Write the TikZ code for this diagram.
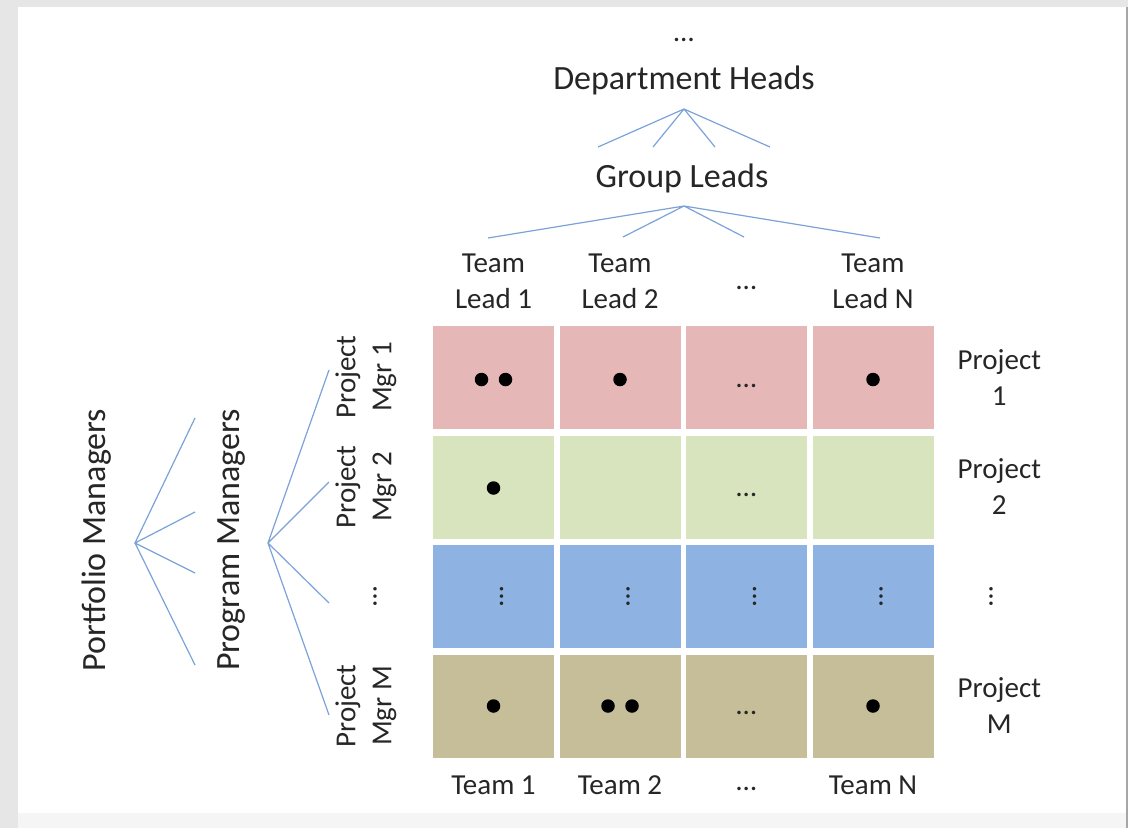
\documentclass[tikz,border=0pt]{standalone}
\usepackage{fontspec}
\setmainfont{Carlito}
\usepackage{tikz}
\usetikzlibrary{positioning}
\usepackage{xcolor}

\definecolor{txtgray}{HTML}{262626}
\definecolor{fanblue}{HTML}{7BA3DA}
\definecolor{pinkrow}{HTML}{E6B7B7}
\definecolor{greenrow}{HTML}{D8E4BD}
\definecolor{bluerow}{HTML}{8EB3E2}
\definecolor{tanrow}{HTML}{C5BE98}
\definecolor{frame}{HTML}{E6E6E6}

\begin{document}
\begin{tikzpicture}[
    x = 1pt, y = -1pt,
    big/.style={font=\fontsize{34}{40}\selectfont, text=txtgray, inner sep=0pt},
    lbl/.style={font=\fontsize{29}{36}\selectfont, text=txtgray, align=center, inner sep=0pt},
    rotlbl/.style={lbl, rotate=90},
    cell/.style={minimum width=121pt, minimum height=103pt, inner sep=0pt, outer sep=0pt},
    dot/.style={circle, fill=black, inner sep=0pt, minimum size=13.5pt},
    vdots/.style={lbl, rotate=90},
    fan/.style={draw=fanblue, line width=1.2pt}
]
    % screenshot frame
    \fill[frame] (0,0) rectangle (1128,828);
    \fill[white!96!black] (18,813) rectangle (1126,828);
    \fill[white] (18,7) rectangle (1126,813);
    \fill[gray!70] (1126,7) rectangle (1128,828);

    % the matrix
    \node[cell, fill=pinkrow] (c11) at (493.5,377.5) {};
    \node[cell, fill=pinkrow, right=5.5pt of c11] (c12) {};
    \node[cell, fill=pinkrow, right=5.5pt of c12] (c13) {};
    \node[cell, fill=pinkrow, right=5.5pt of c13] (c14) {};
    \node[cell, fill=greenrow, below=6.5pt of c11] (c21) {};
    \node[cell, fill=greenrow, right=5.5pt of c21] (c22) {};
    \node[cell, fill=greenrow, right=5.5pt of c22] (c23) {};
    \node[cell, fill=greenrow, right=5.5pt of c23] (c24) {};
    \node[cell, fill=bluerow, below=6.5pt of c21] (c31) {};
    \node[cell, fill=bluerow, right=5.5pt of c31] (c32) {};
    \node[cell, fill=bluerow, right=5.5pt of c32] (c33) {};
    \node[cell, fill=bluerow, right=5.5pt of c33] (c34) {};
    \node[cell, fill=tanrow, below=6.5pt of c31] (c41) {};
    \node[cell, fill=tanrow, right=5.5pt of c41] (c42) {};
    \node[cell, fill=tanrow, right=5.5pt of c42] (c43) {};
    \node[cell, fill=tanrow, right=5.5pt of c43] (c44) {};

    % assignments
    \node[dot, xshift=-12pt, yshift=-2pt] (a11) at (c11) {};
    \node[dot, xshift=12pt, yshift=-2pt] (b11) at (c11) {};
    \node[dot, yshift=-2pt] (a12) at (c12) {};
    \node[lbl, yshift=-8pt] (e13) at (c13) {…};
    \node[dot, yshift=-2pt] (a14) at (c14) {};
    \node[dot, yshift=-1pt] (a21) at (c21) {};
    \node[lbl, yshift=-8pt] (e23) at (c23) {…};
    \node[xshift=8pt, vdots] (v31) at (c31) {…};
    \node[xshift=8pt, vdots] (v32) at (c32) {…};
    \node[xshift=8pt, vdots] (v33) at (c33) {…};
    \node[xshift=8pt, vdots] (v34) at (c34) {…};
    \node[dot] (a41) at (c41) {};
    \node[dot, xshift=-12pt] (a42) at (c42) {};
    \node[dot, xshift=12pt] (b42) at (c42) {};
    \node[lbl, yshift=-7pt] (e43) at (c43) {…};
    \node[dot] (a44) at (c44) {};

    % teams
    \node[lbl, above=17pt of c11] (tl1) {Team\\Lead 1};
    \node[lbl, above=17pt of c12] (tl2) {Team\\Lead 2};
    \node[lbl, above=36pt of c13] (tlx) {…};
    \node[lbl, above=17pt of c14] (tln) {Team\\Lead N};
    \node[lbl, below=18pt of c41] (t1) {Team 1};
    \node[lbl, below=18pt of c42] (t2) {Team 2};
    \node[lbl, below=30pt of c43] (tx) {…};
    \node[lbl, below=18pt of c44] (tn) {Team N};

    % projects
    \node[lbl, right=24pt of c14] (p1) {Project\\1};
    \node[lbl, right=24pt of c24] (p2) {Project\\2};
    \node[vdots] (px) at (991,596) {…};
    \node[lbl, right=24pt of c44] (pm) {Project\\M};

    % managers
    \node[rotlbl] (pmg1) at (366,377) {Project\\Mgr 1};
    \node[rotlbl] (pmg2) at (366,487) {Project\\Mgr 2};
    \node[vdots] (pmgx) at (375,596) {…};
    \node[rotlbl] (pmgm) at (366,706) {Project\\Mgr M};
    \node[big, rotate=90] (prog) at (232,540) {Program Managers};
    \node[big, rotate=90] (port) at (97,540) {Portfolio Managers};

    % line management
    \node[lbl] (topx) at (684,40) {…};
    \node[big] (dept) at (684,80) {Department Heads};
    \node[big] (grp) at (682,178) {Group Leads};

    \coordinate (dh) at (684,109);
    \coordinate (dh1) at (598,147);
    \coordinate (dh2) at (653,147);
    \coordinate (dh3) at (715,147);
    \coordinate (dh4) at (770,147);
    \coordinate (gl) at (684,206);
    \coordinate (gl1) at (488,238);
    \coordinate (gl2) at (623,237);
    \coordinate (gl3) at (744,237);
    \coordinate (gl4) at (880,238);
    \coordinate (pf) at (135,543);
    \coordinate (pf1) at (195,418);
    \coordinate (pf2) at (195,512);
    \coordinate (pf3) at (195,573);
    \coordinate (pf4) at (195,665);
    \coordinate (pg) at (268,543);
    \coordinate (pg1) at (329,370);
    \coordinate (pg2) at (329,482);
    \coordinate (pg3) at (329,603);
    \coordinate (pg4) at (329,715);

    \draw[fan] (dh1) -- (dh) -- (dh4) (dh2) -- (dh) -- (dh3);
    \draw[fan] (gl1) -- (gl) -- (gl4) (gl2) -- (gl) -- (gl3);
    \draw[fan] (pf1) -- (pf) -- (pf4) (pf2) -- (pf) -- (pf3);
    \draw[fan] (pg1) -- (pg) -- (pg4) (pg2) -- (pg) -- (pg3);
\end{tikzpicture}
\end{document}
